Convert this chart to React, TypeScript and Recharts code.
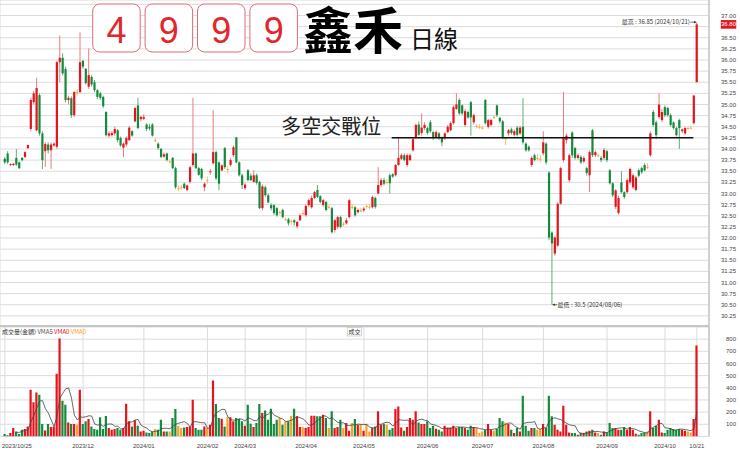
import React from 'react';
import { ComposedChart, Bar, Line, XAxis, YAxis, CartesianGrid, ReferenceLine, ReferenceDot, Cell } from 'recharts';

const openPrice = [
  33.78,33.90,33.64,33.64,33.80,33.70,33.80,33.82,34.02,34.45,
  35.05,34.42,35.21,34.35,33.95,34.10,33.97,34.08,34.05,35.95,
  36.05,35.80,35.10,35.14,34.76,35.28,35.28,35.98,35.80,35.40,
  35.62,35.50,35.32,35.25,35.17,34.83,34.30,34.31,34.35,34.42,
  34.25,34.03,34.10,34.20,34.40,34.62,34.98,34.67,34.68,34.55,
  34.50,34.55,34.20,34.12,34.00,33.83,33.90,33.72,33.80,33.57,
  33.12,33.14,33.22,33.08,33.26,33.64,33.90,33.57,33.55,33.14,
  33.30,33.48,33.68,33.93,33.70,33.52,34.02,33.55,33.64,33.86,
  34.26,33.70,33.41,33.12,33.52,33.40,33.26,33.41,33.26,32.67,
  33.14,32.96,32.74,32.74,32.67,32.58,32.63,32.42,32.42,32.38,
  32.40,32.26,32.40,32.56,32.51,32.74,32.69,32.90,33.08,32.94,
  32.74,32.81,32.70,32.67,32.18,32.25,32.47,32.32,32.33,32.47,
  32.70,32.69,32.58,32.62,32.62,32.72,32.70,32.69,32.90,33.00,
  33.19,33.30,33.26,33.41,33.43,33.41,33.64,33.78,33.86,33.64,
  33.75,33.97,34.25,34.55,34.36,34.47,34.47,34.60,34.38,34.27,
  34.35,34.26,34.24,34.38,34.42,34.58,34.90,35.10,34.98,34.54,
  34.83,35.05,34.60,34.52,34.50,34.48,35.10,34.50,34.54,34.72,
  34.98,34.70,34.62,34.24,34.35,34.44,34.32,34.48,34.35,34.50,
  34.12,34.05,33.64,33.86,33.80,33.78,33.90,34.12,33.47,32.12,
  31.65,31.83,32.77,33.75,34.20,33.30,34.37,34.02,33.80,33.82,
  33.72,33.57,33.41,34.42,33.86,33.86,33.80,33.80,33.95,33.52,
  33.23,32.70,32.56,33.25,33.03,33.03,33.25,33.14,33.08,33.52,
  33.57,33.64,33.60,33.86,34.83,34.60,34.72,34.65,34.94,34.92,
  34.76,34.60,34.47,34.65,34.40,34.35,34.47,34.48,34.58,35.50,
];
const highPrice = [
  33.82,33.95,33.68,33.68,34.00,33.72,33.82,33.95,34.10,35.15,
  35.30,35.60,35.25,34.40,34.15,34.15,34.15,34.15,35.98,36.55,
  36.15,35.85,35.20,35.18,35.30,35.35,36.62,36.00,35.82,36.26,
  35.66,35.55,35.35,35.28,35.20,34.85,34.40,34.40,34.50,34.45,
  34.28,34.15,34.28,34.52,34.42,34.95,35.15,34.75,34.78,34.58,
  34.56,34.58,34.25,34.15,34.02,33.92,33.92,33.76,33.82,33.60,
  33.18,33.20,33.25,33.20,33.62,35.15,33.92,33.60,33.58,33.25,
  33.38,33.55,34.87,33.96,33.72,33.66,34.05,33.62,33.80,34.08,
  34.27,33.72,33.45,33.24,33.55,33.45,33.52,33.45,33.28,33.20,
  33.18,33.00,32.78,32.76,32.70,32.62,32.66,32.46,32.45,32.42,
  32.42,32.38,32.55,32.62,32.76,32.88,32.95,33.06,33.19,32.96,
  32.88,32.84,32.75,32.70,32.43,32.50,32.50,32.36,32.45,32.88,
  32.76,32.72,32.66,32.68,32.70,32.76,32.76,32.95,32.93,33.59,
  33.35,33.35,33.32,33.45,33.46,33.66,34.26,33.90,33.90,33.90,
  33.90,34.25,34.57,34.62,34.80,34.60,34.50,34.65,34.40,34.42,
  34.38,34.28,34.38,34.54,34.62,34.98,35.25,35.14,35.00,34.90,
  34.86,35.08,34.80,34.56,34.55,34.52,35.12,34.68,34.68,34.76,
  35.00,34.72,34.65,34.26,34.45,34.48,34.44,34.52,34.52,35.14,
  34.15,34.08,33.84,33.90,33.88,33.86,34.40,34.15,33.50,32.15,
  32.05,32.80,33.60,35.28,34.35,33.90,34.40,34.05,33.90,33.86,
  33.84,33.60,33.97,34.45,33.97,33.90,33.84,34.02,33.98,33.55,
  33.26,33.10,32.95,33.50,33.05,33.34,33.58,33.45,33.40,33.56,
  33.60,33.68,33.68,34.40,34.88,34.64,35.25,34.90,34.98,34.95,
  34.80,34.62,34.50,34.68,34.46,34.50,34.50,34.52,35.22,36.85,
];
const lowPrice = [
  33.66,33.66,33.62,33.62,33.62,33.55,33.72,33.80,34.00,34.40,
  35.00,34.40,34.30,33.55,33.60,33.90,33.55,34.05,34.00,35.50,
  35.65,35.05,35.00,34.70,34.72,35.20,35.25,35.80,35.45,35.35,
  35.40,35.28,35.12,35.10,34.92,34.28,34.25,34.28,34.30,34.15,
  34.05,33.82,34.05,34.18,34.28,34.60,34.45,34.62,34.65,34.40,
  34.42,34.28,34.15,33.98,33.80,33.80,33.72,33.68,33.55,33.10,
  33.05,33.08,33.10,33.05,33.22,33.60,33.55,33.40,33.30,33.05,
  33.22,33.42,33.65,33.30,33.07,33.50,33.55,33.45,33.60,33.82,
  33.68,33.38,33.10,33.08,33.28,33.28,33.24,33.20,32.65,32.62,
  32.93,32.78,32.62,32.52,32.48,32.52,32.44,32.38,32.28,32.30,
  32.28,32.22,32.38,32.50,32.48,32.70,32.66,32.88,32.90,32.78,
  32.70,32.60,32.65,32.10,32.12,32.20,32.22,32.26,32.30,32.44,
  32.64,32.48,32.55,32.58,32.58,32.66,32.64,32.66,32.66,32.98,
  33.15,33.18,33.20,33.00,33.35,33.38,33.62,33.75,33.72,33.60,
  33.72,33.94,34.22,34.30,34.30,34.42,34.32,34.36,34.20,34.24,
  34.20,34.06,34.20,34.35,34.40,34.55,34.88,34.76,34.76,34.50,
  34.68,34.30,34.55,34.46,34.45,34.44,34.55,34.46,34.50,34.68,
  34.72,34.58,34.22,34.09,34.30,34.32,34.28,34.28,34.32,34.10,
  33.94,33.94,33.60,33.72,33.74,33.70,33.85,33.65,31.95,30.50,
  31.60,31.80,32.75,33.70,34.12,33.25,33.80,33.76,33.76,33.66,
  33.68,33.40,33.03,33.82,33.82,33.82,33.70,33.75,33.70,33.20,
  32.92,32.65,32.52,33.00,32.88,33.00,33.20,33.10,33.05,33.36,
  33.44,33.50,33.55,33.82,34.50,34.22,34.68,34.60,34.72,34.72,
  34.50,34.44,34.28,34.00,34.36,34.32,34.44,34.45,34.55,35.50,
];
const closePrice = [
  33.70,33.70,33.66,33.67,33.65,33.57,33.75,33.93,34.09,35.10,
  35.25,35.37,34.35,33.75,34.11,33.97,34.10,34.12,35.95,36.05,
  35.70,35.10,35.15,34.76,35.28,35.28,35.95,35.85,35.48,35.66,
  35.45,35.32,35.17,35.15,34.96,34.31,34.35,34.36,34.45,34.20,
  34.08,34.12,34.25,34.48,34.30,34.92,34.47,34.72,34.72,34.45,
  34.46,34.30,34.20,34.02,33.82,33.88,33.75,33.72,33.57,33.14,
  33.12,33.14,33.12,33.18,33.59,33.90,33.57,33.42,33.34,33.22,
  33.30,33.50,33.93,33.34,33.22,33.63,33.59,33.55,33.75,34.04,
  33.70,33.41,33.19,33.20,33.30,33.30,33.41,33.24,32.67,33.16,
  32.96,32.80,32.67,32.56,32.51,32.58,32.47,32.42,32.33,32.38,
  32.35,32.36,32.51,32.56,32.72,32.85,32.90,33.03,32.92,32.81,
  32.85,32.63,32.70,32.13,32.40,32.47,32.25,32.32,32.40,32.85,
  32.70,32.51,32.63,32.62,32.66,32.72,32.70,32.92,32.70,33.19,
  33.30,33.22,33.26,33.23,33.38,33.64,33.80,33.86,33.75,33.86,
  33.86,34.22,34.54,34.32,34.48,34.54,34.36,34.40,34.25,34.38,
  34.25,34.15,34.35,34.50,34.58,34.94,35.00,34.80,34.80,34.85,
  34.71,34.71,34.76,34.52,34.50,34.48,34.58,34.65,34.65,34.72,
  34.76,34.62,34.26,34.24,34.42,34.36,34.40,34.32,34.48,34.15,
  33.97,33.97,33.80,33.75,33.80,33.78,34.15,33.70,32.01,31.88,
  32.01,32.77,33.57,34.26,34.30,33.86,33.86,33.80,33.86,33.70,
  33.80,33.46,33.93,33.86,33.93,33.86,33.75,33.98,33.75,33.23,
  32.96,33.07,32.90,33.03,32.92,33.30,33.55,33.41,33.36,33.40,
  33.48,33.52,33.60,34.35,34.54,34.31,35.00,34.83,34.76,34.76,
  34.54,34.47,34.31,34.47,34.44,34.47,34.47,34.48,35.20,36.80,
];
const volume = [
  19,10,27,69,41,20,55,60,82,384,
  280,362,343,102,49,102,77,82,516,805,
  294,261,115,102,102,96,384,102,124,143,
  82,60,55,157,60,168,69,55,60,69,
  55,69,269,124,82,132,88,41,47,33,
  27,41,60,55,137,41,41,41,151,225,
  88,69,74,77,82,302,69,55,55,82,
  69,96,459,266,151,146,82,157,157,124,
  151,143,124,88,261,104,77,110,266,192,
  214,137,228,102,137,151,96,124,124,170,
  228,165,77,77,69,77,170,170,165,165,
  178,151,69,206,69,77,137,69,110,47,
  110,143,96,96,47,104,41,69,82,206,
  96,104,96,55,69,225,247,74,47,77,
  151,137,206,115,102,102,124,69,88,63,
  55,41,88,74,74,88,69,77,77,69,
  55,88,77,69,27,41,55,102,55,47,
  60,151,124,115,102,55,27,69,41,335,
  88,47,69,69,55,60,102,69,335,165,
  96,55,41,253,96,33,27,27,14,27,
  27,41,47,55,33,27,14,41,33,110,
  69,69,55,55,77,55,77,55,22,14,
  27,33,41,206,69,88,137,33,27,55,
  69,60,55,60,55,47,41,33,143,747,
];

const priceTicks = [30.25,30.5,30.75,31,31.25,31.5,31.75,32,32.25,32.5,32.75,33,33.25,33.5,33.75,34,34.25,34.5,34.75,35,35.25,35.5,35.75,36,36.25,36.5,36.75,37,37.25];
const hiddenPriceLabels = [36.75, 37.25];
const volumeTicks = [100,200,300,400,500,600,700,800,900];
const monthIdx = [0,27,48,70,83,104,124,146,165,186,208,228,239];
const monthLabels = ['2023/10/25','2023/12','2024/01','2024/02','2024/03','2024/04','2024/05','2024/06','2024/07','2024/08','2024/09','2024/10','10/21'];
const titleDigits = ['4','9','9','9'];
const stockName = '鑫禾';
const chartKind = '日線';
const keyLevel = 34.25;
const keyLevelLabel = '多空交戰位';
const keyLevelFrom = 133.6;
const keyLevelTo = 237.8;
const highIdx = 239; const highVal = 36.85; const highDate = '2024/10/21';
const lowIdx = 189; const lowVal = 30.5; const lowDate = '2024/08/06';
const lastIdx = 239; const lastClose = 36.80;

const UP = '#e3141b';
const DOWN = '#168a3c';
const FLAT = '#f5a12c';
const FONT = 'Liberation Sans, Arial, sans-serif';
const CJK = '"Noto Sans CJK TC", "Noto Sans CJK SC", sans-serif';
const X_DOMAIN: [number, number] = [-1.693, 243.2];

const data = openPrice.map((o, i) => {
  let vma: number | null = null;
  if (i >= 4) {
    let s = 0;
    for (let k = i - 4; k <= i; k++) s += volume[k];
    vma = s / 5;
  }
  return { i, o, h: highPrice[i], l: lowPrice[i], c: closePrice[i], range: [lowPrice[i], highPrice[i]], vol: volume[i], vma };
});

const colorOf = (o: number, c: number) => (c > o ? UP : c < o ? DOWN : FLAT);
const wickOf = (o: number, c: number) => (c > o ? '#ee7a7e' : c < o ? '#5fae78' : '#f6bf74');

const Candle = (props: any) => {
  const { x, y, width, height, payload } = props;
  if (!payload) return <g />;
  const { o, h, l, c } = payload;
  const top = Math.min(y, y + height);
  const bot = Math.max(y, y + height);
  const span = h - l;
  const py = (p: number) => (span > 0 ? top + ((h - p) / span) * (bot - top) : top);
  const cx = x + width / 2;
  const yo = py(o);
  const yc = py(c);
  const bt = Math.min(yo, yc);
  const bh = Math.max(Math.abs(yo - yc), 1);
  return (
    <g>
      <line x1={cx} x2={cx} y1={top} y2={bot} stroke={wickOf(o, c)} strokeWidth={1} />
      <rect x={cx - 1.1} y={bt} width={2.2} height={bh} fill={colorOf(o, c)} />
    </g>
  );
};

const PriceTick = (p: any) => {
  const v = p.payload.value;
  if (hiddenPriceLabels.includes(v)) return <g />;
  return (
    <text x={p.x + 27} y={p.y} dy={2.1} textAnchor="end" fontSize={6} fill="#444" fontFamily={FONT}>
      {v.toFixed(2)}
    </text>
  );
};

const VolTick = (p: any) => {
  const v = p.payload.value;
  if (v > 850) return <g />;
  return (
    <text x={p.x + 27} y={p.y} dy={2.1} textAnchor="end" fontSize={6} fill="#444" fontFamily={FONT}>
      {v}
    </text>
  );
};

const DateTick = (p: any) => {
  const k = monthIdx.indexOf(p.payload.value);
  if (k < 0) return <g />;
  return (
    <text x={k === 0 ? p.x - 3 : p.x} y={p.y + 12} textAnchor={k === 0 ? 'start' : 'middle'} fontSize={6} fill="#444" fontFamily={FONT}>
      {monthLabels[k]}
    </text>
  );
};

export default function App() {
  return (
    <div style={{ position: 'absolute', left: 0, top: 0, width: 740, height: 451, background: '#fff', overflow: 'hidden' }}>
      <div style={{ position: 'absolute', left: 0, top: 0 }}>
        <ComposedChart width={740} height={327} data={data} margin={{ top: 0, right: 0, bottom: 0, left: 0 }}>
          <CartesianGrid stroke="#dcdcdc" strokeWidth={1} />
          <XAxis dataKey="i" type="number" domain={X_DOMAIN} allowDataOverflow ticks={monthIdx} height={0} tick={false} tickLine={false} axisLine={false} />
          <YAxis orientation="right" width={31} domain={[30, 37.348]} allowDataOverflow ticks={priceTicks} interval={0} tick={<PriceTick />} tickLine={false} tickSize={0} tickMargin={0} axisLine={{ stroke: '#b4b4b4' }} />
          <Bar dataKey="range" barSize={3} shape={<Candle />} isAnimationActive={false} />
          <ReferenceLine segment={[{ x: keyLevelFrom, y: keyLevel }, { x: keyLevelTo, y: keyLevel }]} stroke="#111" strokeWidth={1.5} />
          <ReferenceDot x={keyLevelFrom} y={keyLevel} r={0} shape={(p: any) => (
            <text x={p.cx - 10.5} y={p.cy - 3.5} textAnchor="end" fontSize={20} fill="#222" fontFamily={CJK}>{keyLevelLabel}</text>
          )} />
          <ReferenceDot x={highIdx} y={highVal} r={0} shape={(p: any) => (
            <g>
              <text x={p.cx - 7} y={p.cy + 2} textAnchor="end" fontSize={6} fill="#333" fontFamily={CJK}>{`最高 : ${highVal} (${highDate})`}</text>
              <line x1={p.cx - 6.5} x2={p.cx - 1} y1={p.cy} y2={p.cy} stroke="#333" strokeWidth={0.7} />
              <path d={`M${p.cx - 0.5},${p.cy} l-2.2,-1.3 l0,2.6 z`} fill="#333" />
            </g>
          )} />
          <ReferenceDot x={lowIdx} y={lowVal} r={0} shape={(p: any) => (
            <g>
              <line x1={p.cx + 0.5} x2={p.cx + 5} y1={p.cy} y2={p.cy} stroke="#333" strokeWidth={0.7} />
              <path d={`M${p.cx + 0.5},${p.cy} l2.2,-1.3 l0,2.6 z`} fill="#333" />
              <text x={p.cx + 5.5} y={p.cy + 2} textAnchor="start" fontSize={6} fill="#333" fontFamily={CJK}>{`最低 : ${lowVal} (${lowDate})`}</text>
            </g>
          )} />
          <ReferenceDot x={lastIdx} y={lastClose} r={0} shape={(p: any) => (
            <g>
              <rect x={p.cx + 24} y={p.cy - 4.3} width={15.4} height={8.6} fill="#e3141b" />
              <text x={p.cx + 31.7} y={p.cy + 2.1} textAnchor="middle" fontSize={6} fill="#fff" fontFamily={FONT}>{lastClose.toFixed(2)}</text>
            </g>
          )} />
        </ComposedChart>
      </div>
      <div style={{ position: 'absolute', left: 0, top: 325, width: 709, height: 2, background: '#c6c6c6' }} />
      <div style={{ position: 'absolute', left: 0, top: 327 }}>
        <ComposedChart width={740} height={124} data={data} margin={{ top: 0, right: 0, bottom: 0, left: 0 }}>
          <CartesianGrid stroke="#dcdcdc" strokeWidth={1} />
          <XAxis dataKey="i" type="number" domain={X_DOMAIN} allowDataOverflow ticks={monthIdx} interval={0} height={14.6} tick={<DateTick />} tickLine={false} tickSize={0} tickMargin={0} axisLine={false} />
          <YAxis orientation="right" width={31} domain={[0, 900]} allowDataOverflow ticks={volumeTicks} interval={0} tick={<VolTick />} tickLine={false} tickSize={0} tickMargin={0} axisLine={{ stroke: '#b4b4b4' }} />
          <Bar dataKey="vol" barSize={2.2} isAnimationActive={false}>
            {data.map((d) => (
              <Cell key={d.i} fill={colorOf(d.o, d.c)} />
            ))}
          </Bar>
          <Line dataKey="vma" stroke="#444" strokeWidth={0.8} dot={false} isAnimationActive={false} />
        </ComposedChart>
      </div>
      <svg width={740} height={451} style={{ position: 'absolute', left: 0, top: 0, pointerEvents: 'none' }}>
        {titleDigits.map((d, k) => (
          <g key={k}>
            <rect x={92.7 + k * 52.4} y={4} width={47.5} height={48} rx={7} ry={7} fill="#fff" stroke="#df6b77" strokeWidth={1} />
            <text x={92.7 + k * 52.4 + 23.75} y={42.7} textAnchor="middle" fontSize={36} fill="#e3262e" fontFamily={FONT}>{d}</text>
          </g>
        ))}
        <text x={410} y={48} fontSize={24} fill="#111" fontFamily={CJK}>{chartKind}</text>
        <text x={2} y={333.5} fontSize={6} fontFamily={CJK}>
          <tspan fill="#333">成交量(金額) </tspan>
          <tspan fill="#555">VMA5 </tspan>
          <tspan fill="#e3141b">VMA0 </tspan>
          <tspan fill="#f5a12c">VMA0</tspan>
        </text>
        <rect x={347.5} y={327.5} width={14} height={8.5} fill="#fff" stroke="#bbb" strokeWidth={0.6} />
        <text x={354.5} y={334} textAnchor="middle" fontSize={6} fill="#333" fontFamily={CJK}>成交</text>
      </svg>
      <div style={{ position: 'absolute', left: 303, top: 2.2, height: 50, fontSize: 50, lineHeight: '50px', fontWeight: 700, color: '#000', fontFamily: CJK, whiteSpace: 'nowrap', pointerEvents: 'none' }}>
        {stockName}
      </div>
    </div>
  );
}
